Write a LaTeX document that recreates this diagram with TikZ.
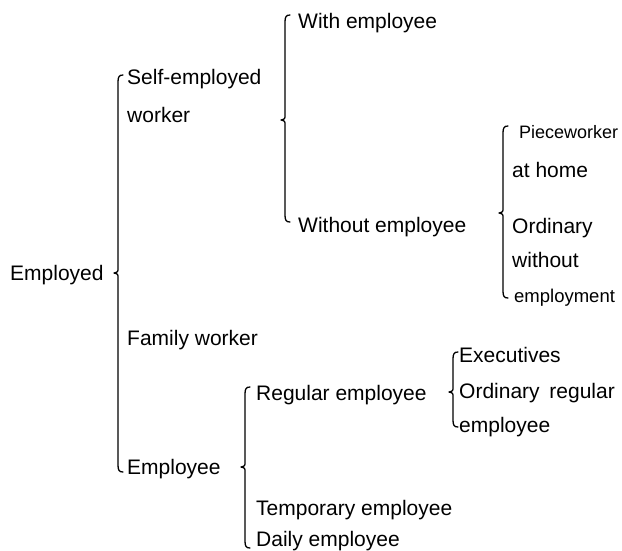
\documentclass[tikz,border=0pt]{standalone}
\usepackage{fontspec}
\setmainfont{Liberation Sans}
\begin{document}
\begin{tikzpicture}[x=1pt,y=-1pt,
  lbl/.style={anchor=base west,inner sep=0pt,font=\fontsize{21}{25}\selectfont},
  small/.style={lbl,font=\fontsize{18}{22}\selectfont},
  bracestyle/.style={line width=1.3pt,line cap=round,line join=round}]
\useasboundingbox (0,0) rectangle (622,550);

% curly brace: x, top, tip, bottom
\newcommand\drawbrace[4]{%
  \draw[bracestyle] ({#1+5},#2) .. controls ({#1+1},#2) and (#1,{#2+2}) .. (#1,{#2+7})
    -- (#1,{#3-5}) .. controls (#1,{#3-1}) .. ({#1-4},#3)
    .. controls (#1,{#3+1}) .. (#1,{#3+5})
    -- (#1,{#4-7}) .. controls (#1,{#4-2}) and ({#1+1},#4) .. ({#1+5},#4);}

% level 0
\node[lbl] (employed) at (10,280) {Employed};
\drawbrace{118}{75}{273}{472}

% level 1
\node[lbl] (self1) at (127,84) {Self-employed};
\node[lbl] (self2) at (127,122) {worker};
\node[lbl] (family) at (127,345) {Family worker};
\node[lbl] (emp) at (127,474) {Employee};

% self-employed worker
\drawbrace{285}{15}{120}{222}
\node[lbl] (with) at (298,28) {With employee};
\node[lbl] (without) at (298,232) {Without employee};

% without employee
\drawbrace{503}{126}{213}{298}
\node[small] (piece) at (519,138) {Pieceworker};
\node[lbl] (home) at (512,177) {at home};
\node[lbl] (ord1) at (512,233) {Ordinary};
\node[lbl] (ord2) at (512,267) {without};
\node[small,font=\fontsize{18.5}{22}\selectfont] (ord3) at (514,302) {employment};

% employee
\drawbrace{245}{387}{467}{548}
\node[lbl] (regular) at (256,400) {Regular employee};
\node[lbl] (temp) at (256,515) {Temporary employee};
\node[lbl] (daily) at (256,546) {Daily employee};

% regular employee
\drawbrace{453}{352}{392}{427}
\node[lbl] (exec) at (459,362) {Executives};
\node[lbl] (oreg1) at (459,398) {Ordinary};
\node[lbl,anchor=base east] (oreg2) at (615,398) {regular};
\node[lbl] (oreg3) at (459,432) {employee};
\end{tikzpicture}
\end{document}
